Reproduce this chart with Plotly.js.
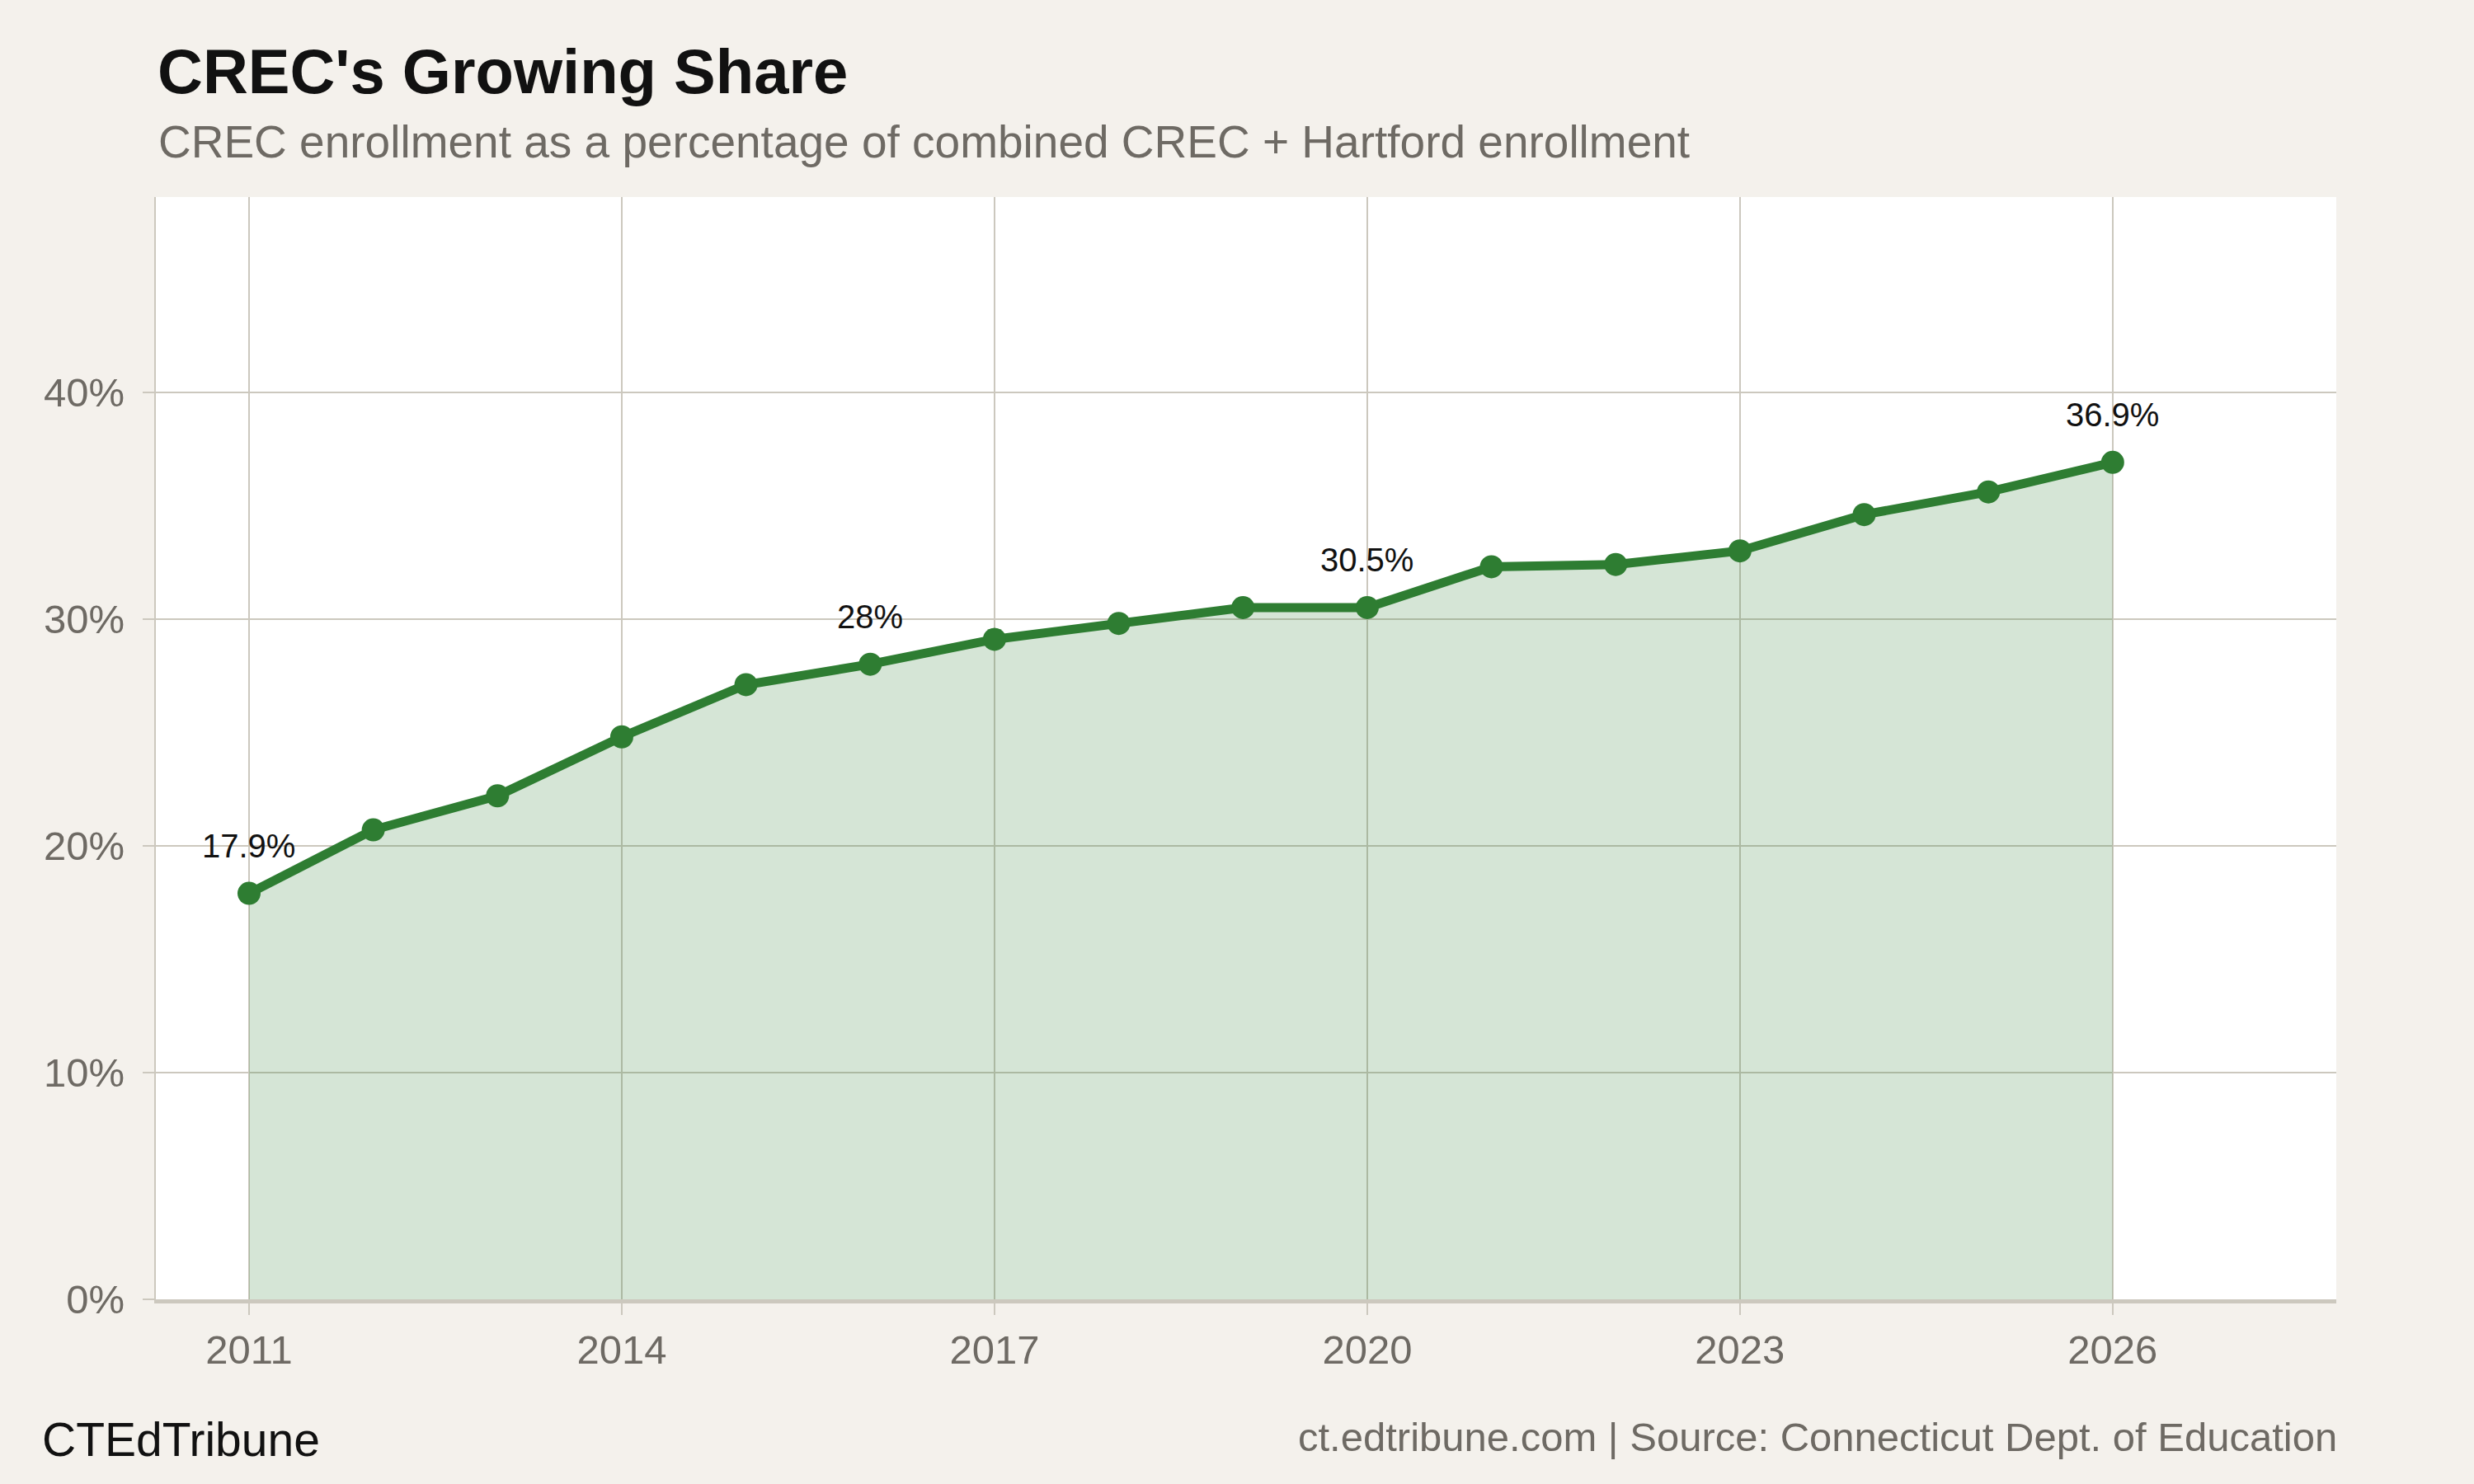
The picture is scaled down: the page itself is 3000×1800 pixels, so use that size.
<!DOCTYPE html>
<html>
<head>
<meta charset="utf-8">
<script src="https://cdn.plot.ly/plotly-3.0.1.min.js"></script>
<style>
  html, body { margin: 0; padding: 0; background: #F4F1EC; }
  #chart { width: 3000px; height: 1800px; }
</style>
</head>
<body>
<div id="chart"></div>
<script>
  // Values.
  const years = [2011, 2012, 2013, 2014, 2015, 2016, 2017, 2018, 2019, 2020, 2021, 2022, 2023, 2024, 2025, 2026];
  const crecShare = [17.9, 20.7, 22.2, 24.8, 27.1, 28.0, 29.1, 29.8, 30.5, 30.5, 32.3, 32.4, 33.0, 34.6, 35.6, 36.9];
  const labelYears = [2011, 2016, 2020, 2026];
  const yTicks = [0, 10, 20, 30, 40];
  const xTicks = [2011, 2014, 2017, 2020, 2023, 2026];

  const GREEN = "#2E7D32";
  const GRID = "#CCC8BE";
  const PAPER = "#F4F1EC";
  const MUTED = "#6E6A64";
  const FONT = "Liberation Sans, Arial, Helvetica, sans-serif";

  const W = 3000, H = 1800;
  const margin = { l: 189, r: 167, t: 239, b: 224 };
  const plotW = W - margin.l - margin.r;
  const plotH = H - margin.t - margin.b;
  // pixel -> paper fraction helpers for the text placed outside the plot
  const px = (x) => (x - margin.l) / plotW;
  const py = (y) => (H - margin.b - y) / plotH;

  const fmtPct = (v) => `${+v.toFixed(1)}%`;

  const trace = {
    type: "scatter",
    mode: "lines+markers",
    x: years,
    y: crecShare,
    fill: "tozeroy",
    fillcolor: "rgba(46,125,50,0.2)",
    line: { color: GREEN, width: 11 },
    marker: { color: GREEN, size: 28 },
    hoverinfo: "skip",
  };

  const valueLabels = labelYears.map((yr) => {
    const v = crecShare[years.indexOf(yr)];
    return {
      x: yr, y: v, xref: "x", yref: "y",
      text: fmtPct(v),
      showarrow: false,
      yanchor: "bottom",
      yshift: 34,
      font: { family: FONT, size: 40, color: "#111" },
    };
  });

  const textNotes = [
    {
      text: "CREC enrollment as a percentage of combined CREC + Hartford enrollment",
      x: px(191), y: py(204), xanchor: "left", yanchor: "bottom",
      font: { family: FONT, size: 55, color: MUTED },
    },
    {
      text: "CTEdTribune",
      x: px(50), y: py(1779), xanchor: "left", yanchor: "bottom",
      font: { family: FONT, size: 57, color: "#111" },
    },
    {
      text: "ct.edtribune.com | Source: Connecticut Dept. of Education",
      x: px(2835), y: py(1771), xanchor: "right", yanchor: "bottom",
      font: { family: FONT, size: 49, color: MUTED },
    },
  ].map((a) => Object.assign({ xref: "paper", yref: "paper", showarrow: false, borderpad: 0 }, a));

  const layout = {
    width: W,
    height: H,
    margin: margin,
    paper_bgcolor: PAPER,
    plot_bgcolor: "white",
    showlegend: false,
    font: { family: FONT, size: 49, color: MUTED },
    title: {
      text: "<b>CREC's Growing Share</b>",
      xref: "paper", x: px(191), xanchor: "left",
      yref: "container", y: 1 - 113 / H, yanchor: "bottom",
      font: { family: FONT, size: 76, color: "#111" },
    },
    xaxis: {
      range: [2010.25, 2027.8],
      tickvals: xTicks,
      ticktext: xTicks.map(String),
      showgrid: true, gridcolor: GRID, gridwidth: 2,
      showline: true, linecolor: GRID, linewidth: 5,
      ticks: "outside", ticklen: 14, tickwidth: 2, tickcolor: GRID,
      zeroline: false,
      tickfont: { family: FONT, size: 49, color: MUTED },
      fixedrange: true,
    },
    yaxis: {
      range: [0, 48.6],
      tickvals: yTicks,
      ticktext: yTicks.map((t) => `${t}%`),
      showgrid: true, gridcolor: GRID, gridwidth: 2,
      showline: true, linecolor: GRID, linewidth: 2,
      ticks: "outside", ticklen: 14, tickwidth: 2, tickcolor: GRID,
      ticklabelstandoff: 12,
      zeroline: false,
      tickfont: { family: FONT, size: 49, color: MUTED },
      fixedrange: true,
    },
    annotations: valueLabels.concat(textNotes),
  };

  Plotly.newPlot("chart", [trace], layout, { displayModeBar: false, staticPlot: true });
</script>
</body>
</html>
